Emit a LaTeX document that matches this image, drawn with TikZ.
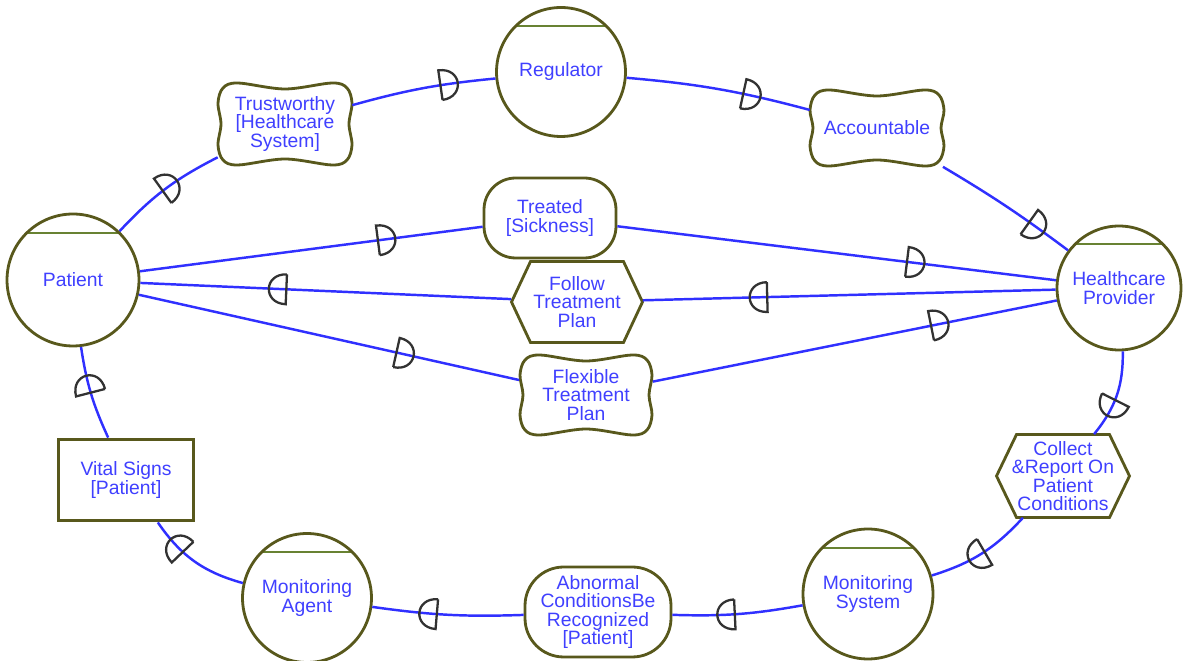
\documentclass[tikz,border=0pt]{standalone}
\usepackage{fontspec}
\setmainfont{Liberation Sans}
\usetikzlibrary{decorations.markings,calc}
\definecolor{bord}{RGB}{88,88,28}
\definecolor{chordc}{RGB}{104,130,50}
\definecolor{txt}{RGB}{64,64,255}
\definecolor{lnk}{RGB}{48,48,255}
\definecolor{dcol}{RGB}{50,50,50}
\tikzset{
  every node/.style={font=\fontsize{11}{10.5}\selectfont, text=txt, align=center, inner sep=0pt},
  nodeline/.style={draw=bord, line width=1.6pt},
  actor/.style={circle, nodeline, minimum size=#1, fill=white,
    path picture={\draw[chordc, line width=1.4pt]
      ($(path picture bounding box.north west)!0.145!(path picture bounding box.south west)$) --
      ($(path picture bounding box.north east)!0.145!(path picture bounding box.south east)$);}},
  holder/.style 2 args={minimum width=#1, minimum height=#2},
  goal/.style={nodeline, fill=white},
  resource/.style={draw=bord, line width=2.2pt, fill=white},
  link/.style={draw=lnk, line width=1.4pt},
  dmk/.style={draw=dcol, line width=1.3pt},
  dep/.style={postaction={decorate, decoration={markings, mark=at position #1 with
    {\draw[dmk] (-5pt,-8.5pt) -- (-5pt,8.5pt) .. controls (8.3pt,8.5pt) and (8.3pt,-8.5pt) .. (-5pt,-8.5pt);}}}}
}
\newcommand\sgoutline[3]{%
  \begin{scope}[shift={(#1)}]
  \draw[nodeline] plot[smooth cycle, tension=0.55] coordinates {
    (0,-#3+6) (#2-20,-#3) (#2-5,-#3+5) (#2,-#3+20) (#2-3,0)
    (#2,#3-20) (#2-5,#3-5) (#2-20,#3) (0,#3-6)
    (-#2+20,#3) (-#2+5,#3-5) (-#2,#3-20) (-#2+3,0)
    (-#2,-#3+20) (-#2+5,-#3+5) (-#2+20,-#3)};
  \end{scope}}
\newcommand\hexoutline[4]{%
  \begin{scope}[shift={(#1)}]
  \draw[nodeline, line join=miter] (-#2,0) -- (-#2+#4,-#3) -- (#2-#4,-#3) -- (#2,0) -- (#2-#4,#3) -- (-#2+#4,#3) -- cycle;
  \end{scope}}
\begin{document}
\begin{tikzpicture}[x=0.02cm,y=-0.02cm]
\fill[white] (0,0) rectangle (1187,661);
\useasboundingbox (0,0) rectangle (1187,661);

% actors
\node[actor=2.64cm] (patient) at (73,280) {Patient};
\node[actor=2.58cm] (reg) at (561,72) {Regulator};
\node[actor=2.48cm] (hp) at (1119,288) {Healthcare\\Provider};
\node[actor=2.58cm] (ma) at (307,598) {Monitoring\\Agent};
\node[actor=2.6cm] (ms) at (868,594) {Monitoring\\System};

% softgoals
\node[holder={2.68cm}{1.64cm}] (trust) at (285,124) {Trustworthy\\{[}Healthcare\\System{]}};
\node[holder={2.68cm}{1.54cm}] (acc) at (877,128) {Accountable};
\node[holder={2.66cm}{1.6cm}] (flex) at (586,395) {Flexible\\Treatment\\Plan};
\sgoutline{trust}{67}{41}
\sgoutline{acc}{67}{38}
\sgoutline{flex}{66}{40}

% goals
\node[goal, minimum width=2.64cm, minimum height=1.6cm, rounded corners=18pt] (treated) at (550,218) {Treated\\{[}Sickness{]}};
\node[goal, minimum width=2.92cm, minimum height=1.8cm, rounded corners=22pt] (abn) at (598,612) {Abnormal\\ConditionsBe\\Recognized\\{[}Patient{]}};

% tasks
\node[holder={2.62cm}{1.62cm}] (follow) at (577,302) {Follow\\Treatment\\Plan};
\node[holder={2.66cm}{1.66cm}] (collect) at (1063,476) {Collect\\\&Report On\\Patient\\Conditions};
\hexoutline{follow}{65.5}{40.5}{19}
\hexoutline{collect}{66.5}{41.5}{20}

% resource
\node[resource, minimum width=2.7cm, minimum height=1.62cm] (vital) at (126,480) {Vital Signs\\{[}Patient{]}};

% dependencies
\draw[link, dep=0.55] (patient) to[bend left=10] (trust);
\draw[link, dep=0.68] (trust) to[bend left=5] (reg);
\draw[link, dep=0.68] (reg) to[bend left=5] (acc);
\draw[link, dep=0.74] (acc) to[bend left=3] (hp);

\draw[link, dep=0.72] (patient) -- (treated);
\draw[link, dep=0.68] (treated) -- (hp);
\draw[link, dep=0.72] (hp) -- (follow);
\draw[link, dep=0.63] (follow) -- (patient);
\draw[link, dep=0.70] (patient) -- (flex);
\draw[link, dep=0.71] (flex) -- (hp);

\draw[link, dep=0.65] (hp) to[bend left=20] (collect);
\draw[link, dep=0.55] (collect) to[bend left=15] (ms);
\draw[link, dep=0.59] (ms) to[bend left=6] (abn);
\draw[link, dep=0.63] (abn) to[bend left=5] (ma);
\draw[link, dep=0.72] (ma) to[bend left=20] (vital);
\draw[link, dep=0.60] (vital) to[bend left=8] (patient);
\end{tikzpicture}
\end{document}
